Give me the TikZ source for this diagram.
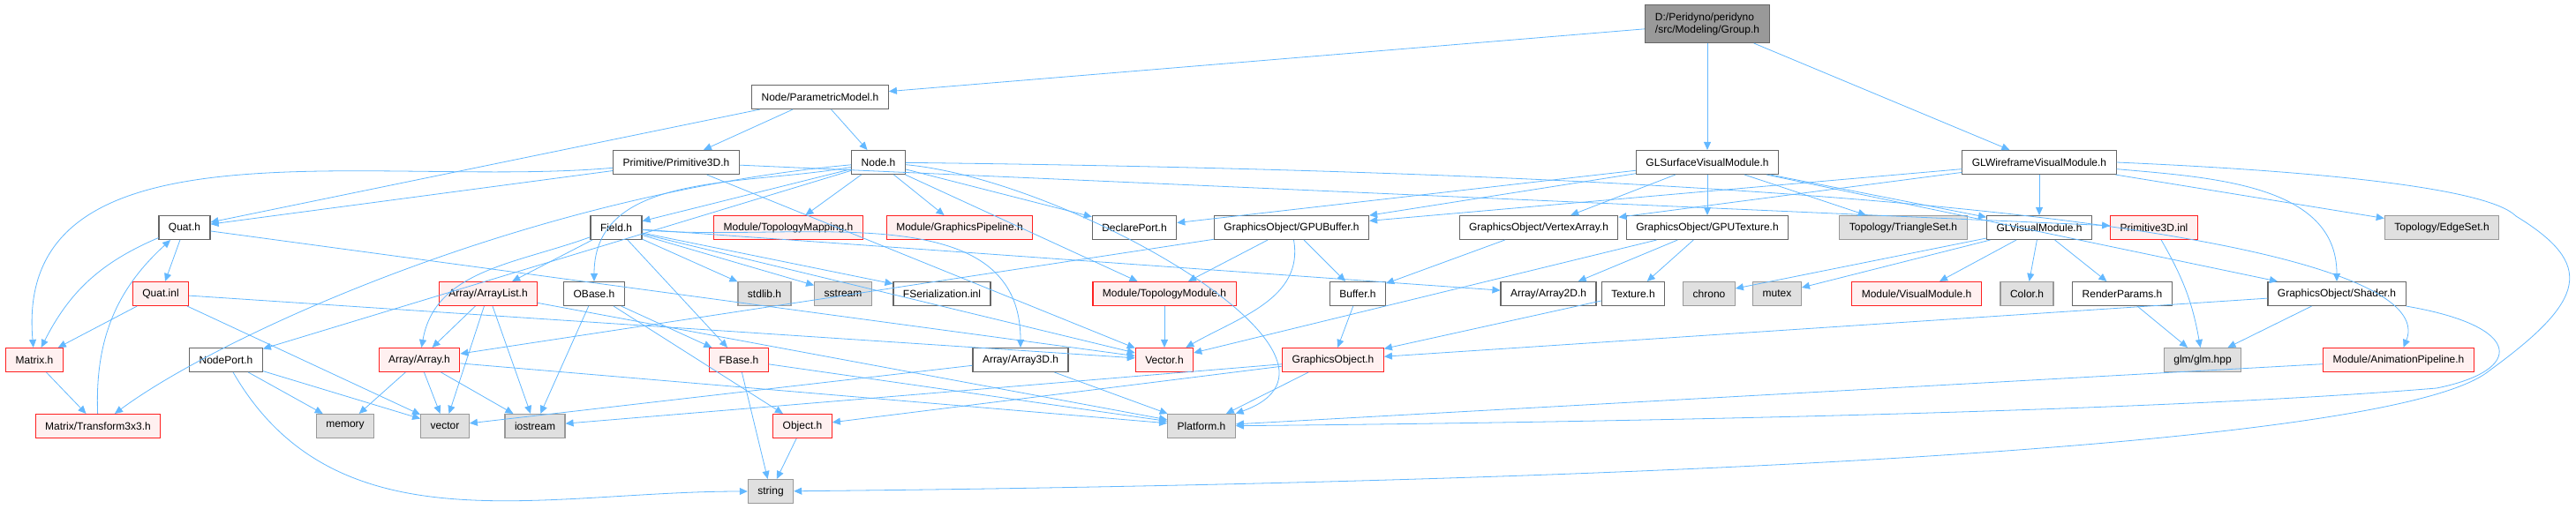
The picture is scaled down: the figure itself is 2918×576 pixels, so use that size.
\documentclass[tikz,border=0pt]{standalone}
\usepackage{fontspec}
\setmainfont{Liberation Sans}
\usepackage{tikz}
\usetikzlibrary{arrows.meta}
\definecolor{blau}{HTML}{63B8FF}
\definecolor{rahmen}{HTML}{666666}
\definecolor{egrau}{HTML}{999999}
\definecolor{hgrau}{HTML}{E0E0E0}
\definecolor{wgrau}{HTML}{999999}
\definecolor{rotr}{HTML}{FF2020}
\definecolor{rotf}{HTML}{FFF0F0}
\tikzset{
  datei/.style={draw=rahmen,fill=white,line width=1.1pt,minimum height=27pt,inner xsep=11pt,inner ysep=2pt,font=\fontsize{12}{14}\selectfont},
  graubox/.style={datei,draw=egrau,fill=hgrau},
  rotbox/.style={datei,draw=rotr,fill=rotf},
  wurzel/.style={datei,fill=wgrau,align=left,minimum width=141pt,minimum height=43pt},
  kante/.style={-{Triangle[length=9pt,width=8pt]},blau,line width=0.8pt},
}
\begin{document}
\begin{tikzpicture}[x=1pt,y=-1pt]
  \useasboundingbox (0,0) rectangle (2918,576);
  \node[wurzel] (root) at (1934,27) {D:/Peridyno/peridyno\\/src/Modeling/Group.h};
  \node[datei] (parametric) at (929,110) {Node/ParametricModel.h};
  \node[datei] (prim3dh) at (766,184) {Primitive/Primitive3D.h};
  \node[datei] (nodeh) at (995,184) {Node.h};
  \node[datei] (glsurf) at (1934,184) {GLSurfaceVisualModule.h};
  \node[datei] (glwire) at (2310,184) {GLWireframeVisualModule.h};
  \node[datei] (quath) at (209,258) {Quat.h};
  \node[datei] (fieldh) at (698,258) {Field.h};
  \node[rotbox] (topomap) at (893,258) {Module/TopologyMapping.h};
  \node[rotbox] (gfxpipe) at (1087,258) {Module/GraphicsPipeline.h};
  \node[datei] (declport) at (1285,258) {DeclarePort.h};
  \node[datei] (gpubuf) at (1463,258) {GraphicsObject/GPUBuffer.h};
  \node[datei] (vertarr) at (1743,258) {GraphicsObject/VertexArray.h};
  \node[datei] (gputex) at (1934,258) {GraphicsObject/GPUTexture.h};
  \node[graubox] (triset) at (2156,258) {Topology/TriangleSet.h};
  \node[datei] (glvis) at (2310,258) {GLVisualModule.h};
  \node[rotbox] (prim3dinl) at (2440,258) {Primitive3D.inl};
  \node[graubox] (edgeset) at (2766,258) {Topology/EdgeSet.h};
  \node[rotbox] (quatinl) at (182,333) {Quat.inl};
  \node[rotbox] (arraylist) at (553,333) {Array/ArrayList.h};
  \node[datei] (obaseh) at (673,333) {OBase.h};
  \node[graubox] (stdlib) at (866,333) {stdlib.h};
  \node[graubox] (sstream) at (955,333) {sstream};
  \node[datei] (fserial) at (1067,333) {FSerialization.inl};
  \node[rotbox] (topomod) at (1319,333) {Module/TopologyModule.h};
  \node[datei] (bufferh) at (1538,333) {Buffer.h};
  \node[datei] (array2d) at (1754,333) {Array/Array2D.h};
  \node[datei] (texture) at (1850,333) {Texture.h};
  \node[graubox] (chrono) at (1936,333) {chrono};
  \node[graubox] (mutex) at (2013,333) {mutex};
  \node[rotbox] (vismod) at (2171,333) {Module/VisualModule.h};
  \node[graubox] (color) at (2296,333) {Color.h};
  \node[datei] (renderp) at (2404,333) {RenderParams.h};
  \node[datei] (shader) at (2647,333) {GraphicsObject/Shader.h};
  \node[rotbox] (matrixh) at (39,408) {Matrix.h};
  \node[datei] (nodeport) at (256,408) {NodePort.h};
  \node[rotbox] (arrayh) at (475,408) {Array/Array.h};
  \node[rotbox] (fbase) at (837,408) {FBase.h};
  \node[datei] (array3d) at (1156,408) {Array/Array3D.h};
  \node[rotbox] (vectorh) at (1319,408) {Vector.h};
  \node[rotbox] (gfxobj) at (1510,408) {GraphicsObject.h};
  \node[graubox] (glm) at (2495,408) {glm/glm.hpp};
  \node[rotbox] (animpipe) at (2717,408) {Module/AnimationPipeline.h};
  \node[rotbox] (transform) at (111,483) {Matrix/Transform3x3.h};
  \node[graubox] (memory) at (391,483) {memory};
  \node[graubox] (vector) at (504,483) {vector};
  \node[graubox] (iostream) at (606,483) {iostream};
  \node[rotbox] (objecth) at (909,483) {Object.h};
  \node[graubox] (platform) at (1361,483) {Platform.h};
  \node[graubox] (string) at (873,557) {string};
  \foreach \a/\b in {root/parametric,root/glsurf,root/glwire,parametric/quath,parametric/prim3dh,parametric/nodeh,
    prim3dh/quath,prim3dh/prim3dinl,prim3dh/vectorh,nodeh/fieldh,nodeh/topomap,nodeh/gfxpipe,nodeh/declport,
    nodeh/topomod,nodeh/nodeport,quath/quatinl,quath/vectorh,quatinl/matrixh,quatinl/vectorh,quatinl/vector,
    matrixh/transform,nodeport/memory,nodeport/vector,fieldh/arraylist,fieldh/stdlib,fieldh/sstream,fieldh/fserial,
    fieldh/fbase,fieldh/vectorh,fieldh/array2d,arraylist/arrayh,arraylist/vector,arraylist/iostream,arraylist/platform,
    arrayh/vector,arrayh/iostream,arrayh/memory,arrayh/platform,obaseh/iostream,obaseh/fbase,obaseh/objecth,
    fbase/string,fbase/platform,objecth/string,array3d/vector,array3d/platform,topomod/vectorh,gpubuf/topomod,
    gpubuf/bufferh,gpubuf/arrayh,bufferh/gfxobj,vertarr/bufferh,gputex/texture,gputex/array2d,gputex/vectorh,
    texture/gfxobj,gfxobj/platform,gfxobj/iostream,gfxobj/objecth,glsurf/glvis,glsurf/gpubuf,glsurf/vertarr,
    glsurf/gputex,glsurf/triset,glsurf/shader,glsurf/declport,glwire/glvis,glwire/gpubuf,glwire/vertarr,
    glwire/edgeset,glvis/chrono,glvis/mutex,glvis/vismod,glvis/color,glvis/renderp,renderp/glm,shader/glm,
    shader/gfxobj,animpipe/platform}
    {\draw[kante] (\a) -- (\b);}
  \draw[kante] (prim3dh) to[out=185,in=95] (matrixh);
  \draw[kante] (quath) to[bend right=20] (matrixh);
  \draw[kante] (transform) to[bend left=25] (quath);
  \draw[kante] (nodeport) to[out=-60,in=180] (string);
  \draw[kante] (nodeh) to[out=190,in=90] (obaseh);
  \draw[kante] (nodeh) .. controls (600,220) and (250,380) .. (transform);
  \draw[kante] (nodeh) to[out=-5,in=20] (platform);
  \draw[kante] (nodeh) .. controls (2400,200) and (2760,300) .. (animpipe);
  \draw[kante] (fieldh) to[out=200,in=80] (arrayh);
  \draw[kante] (fieldh) to[out=-5,in=90] (array3d);
  \draw[kante] (gpubuf) to[out=-80,in=30] (vectorh);
  \draw[kante] (glwire) to[out=-5,in=90] (shader);
  \draw[kante] (glwire.east) .. controls (2650,195) and (2820,215) .. (2850,245)
    .. controls (2940,300) and (2930,340) .. (2820,420)
    .. controls (2700,520) and (1600,550) .. (string);
  \draw[kante] (shader.south east) .. controls (2860,370) and (2860,420) .. (2760,440)
    .. controls (2400,470) and (1700,480) .. (platform);
  \draw[kante] (prim3dinl) to[bend left=10] (glm);
\end{tikzpicture}
\end{document}
